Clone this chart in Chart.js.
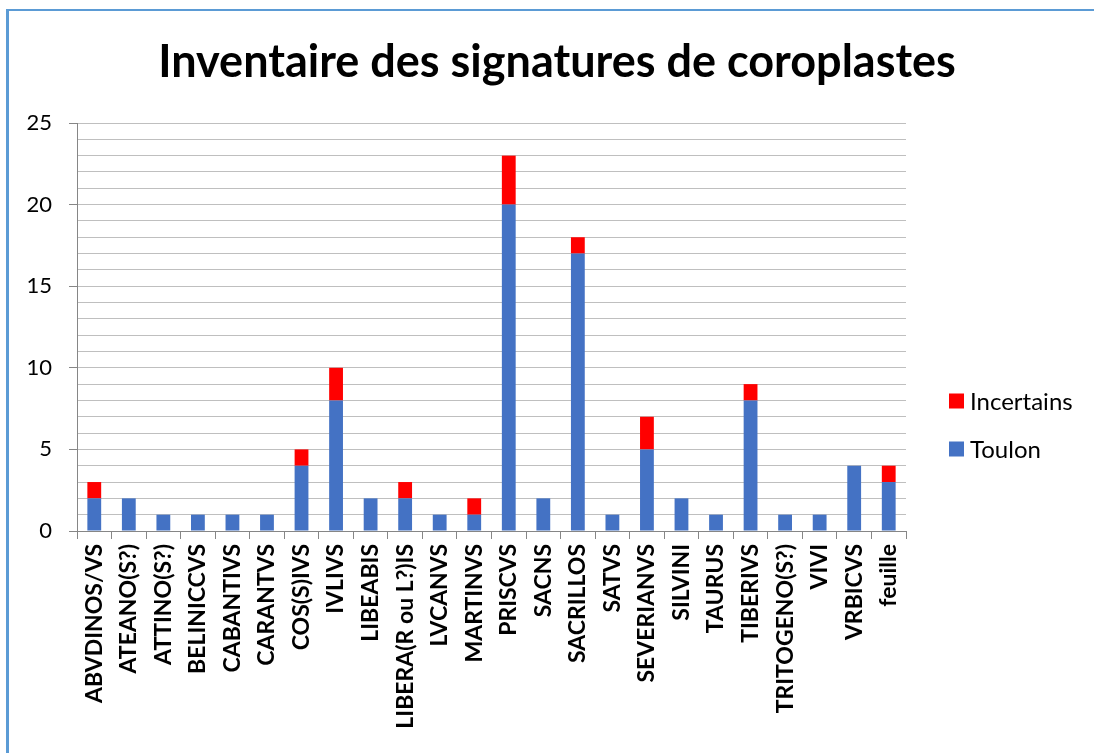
<!DOCTYPE html>
<html><head><meta charset="utf-8">
<script src="https://cdn.jsdelivr.net/npm/chart.js@4.4.1/dist/chart.umd.min.js"></script>
<style>
html,body{margin:0;padding:0;background:#fff;overflow:hidden;width:1094px;height:753px}
#wrap{position:relative;width:1094px;height:753px;overflow:hidden;background:#fff}
#frame{position:absolute;left:6px;top:9px;width:1300px;height:1000px;border-left:3px solid #5B9BD5;border-top:2px solid #5B9BD5;box-sizing:border-box}
canvas{position:absolute;left:0;top:0}
</style></head><body>
<div id="wrap"><div id="frame"></div><canvas id="c" width="1094" height="753"></canvas></div>
<script>
const chartTitle = "Inventaire des signatures de coroplastes";
const categories = ["ABVDINOS/VS","ATEANO(S?)","ATTINO(S?)","BELINICCVS","CABANTIVS","CARANTVS","COS(S)IVS","IVLIVS","LIBEABIS","LIBERA(R ou L?)IS","LVCANVS","MARTINVS","PRISCVS","SACNS","SACRILLOS","SATVS","SEVERIANVS","SILVINI","TAURUS","TIBERIVS","TRITOGENO(S?)","VIVI","VRBICVS","feuille"];
const toulon =     [2,2,1,1,1,1,4,8,2,2,1,1,20,2,17,1,5,2,1,8,1,1,4,3];
const incertains = [1,0,0,0,0,0,1,2,0,1,0,1,3,0,1,0,2,0,0,1,0,0,0,1];
const yMin = 0, yMax = 25, yMajor = 5;

const decor = {
  id: 'decor',
  afterDraw(chart) {
    const ctx = chart.ctx;
    ctx.save();
    ctx.fillStyle = '#000';
    ctx.font = 'bold 45px Lato';
    ctx.textAlign = 'center';
    ctx.textBaseline = 'alphabetic';
    ctx.fillText(chartTitle, 557, 77);
    // legend (reverse order like Excel)
    const ds = chart.data.datasets.slice().reverse();
    ctx.font = '24px Lato';
    ctx.textAlign = 'left';
    ctx.textBaseline = 'middle';
    ds.forEach((d, i) => {
      const y = 401 + i * 48;
      ctx.fillStyle = d.backgroundColor;
      ctx.fillRect(949, y - 7.5, 15, 15);
      ctx.fillStyle = '#000';
      ctx.fillText(d.label, 970, y + 1);
    });
    ctx.restore();
  }
};

new Chart(document.getElementById('c'), {
  type: 'bar',
  data: {
    labels: categories,
    datasets: [
      { label: 'Toulon', data: toulon, backgroundColor: '#4472C4', barPercentage: 0.4, categoryPercentage: 1 },
      { label: 'Incertains', data: incertains, backgroundColor: '#FF0000', barPercentage: 0.4, categoryPercentage: 1 }
    ]
  },
  options: {
    responsive: false,
    animation: false,
    devicePixelRatio: 1,
    layout: { padding: { left: 0, right: 188, top: 123, bottom: 0 } },
    plugins: { legend: { display: false }, title: { display: false }, tooltip: { enabled: false } },
    scales: {
      x: {
        stacked: true,
        afterFit(s) { s.height = 222; },
        grid: { display: true, drawOnChartArea: false, drawTicks: true, tickLength: 8, color: '#868686', offset: true },
        border: { color: '#868686', width: 1 },
        ticks: { minRotation: 90, maxRotation: 90, autoSkip: false, padding: 5, color: '#000', font: { family: 'Lato', weight: 'bold', size: 23 } }
      },
      y: {
        stacked: true,
        min: yMin, max: yMax,
        afterFit(s) { s.width = 77; },
        grid: {
          color: '#BFBFBF', lineWidth: 1, drawTicks: true, tickLength: 8,
          tickColor: (c) => (c.tick && c.tick.value % yMajor === 0) ? '#868686' : 'rgba(0,0,0,0)'
        },
        border: { color: '#868686', width: 1 },
        ticks: {
          stepSize: 1, autoSkip: false, padding: 17, color: '#000',
          font: { family: 'Lato', size: 22 },
          callback: (v) => (v % yMajor === 0 ? v : '')
        }
      }
    }
  },
  plugins: [decor]
});
</script>
</body></html>
